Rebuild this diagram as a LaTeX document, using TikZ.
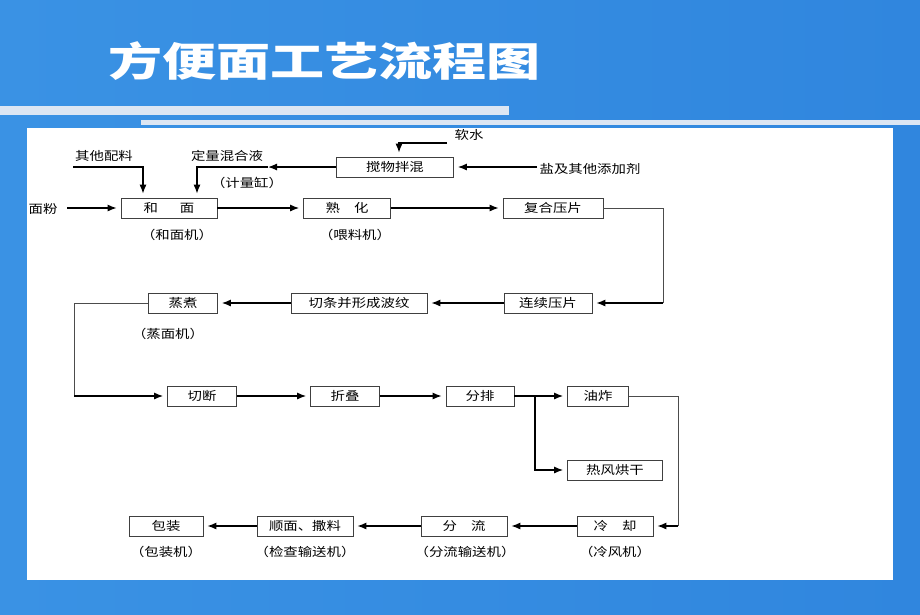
\documentclass[tikz,border=0pt]{standalone}
\usepackage{fontspec}
\usetikzlibrary{arrows.meta}
\newfontfamily\cjk[FakeStretch=1.2]{Noto Sans CJK SC}
\newfontfamily\titlefont[FakeStretch=1.35]{Noto Sans CJK SC}
\definecolor{slideblue}{RGB}{58,146,228}
\definecolor{slidedeep}{RGB}{48,134,222}
\definecolor{barlight}{RGB}{220,230,243}
\tikzset{
  stage/.style={draw=black!75,line width=0.7pt,minimum height=20pt,inner sep=0pt,
    font=\cjk\fontsize{12}{12}\selectfont},
  note/.style={inner sep=0pt,font=\cjk\fontsize{12}{12}\selectfont},
  flow/.style={-{Latex[length=9pt,width=7pt]},line width=1.2pt,shorten >=4pt},
  link/.style={draw=black!70,line width=0.7pt}
}
\begin{document}
\begin{tikzpicture}[x=1pt,y=-1pt]
\useasboundingbox (0,0) rectangle (920,614);
% slide background
\shade[left color=slideblue,right color=slidedeep] (0,0) rectangle (920,614);
\fill[barlight] (0,106) rectangle (509,115);
\fill[barlight] (141,120) rectangle (920,125);
\fill[white] (27,128) rectangle (893,580);
\node[text=white,font=\titlefont\bfseries\fontsize{40}{40}\selectfont] (title) at (324,61) {方便面工艺流程图};

% process boxes
\path
    [every node/.style=stage]
    (169,208) node [minimum width=96pt] (hemian) {和\hspace{22pt}面}
    (347,208) node [minimum width=87pt] (shuhua) {熟\hspace{14pt}化}
    (553,208) node [minimum width=100pt] (fuhe) {复合压片}
    (395,167) node [minimum width=117pt] (jiaoban) {搅物拌混}
    (548,303) node [minimum width=88pt] (lianxu) {连续压片}
    (359,303) node [minimum width=136pt] (qietiao) {切条并形成波纹}
    (183,303) node [minimum width=69pt] (zhengzhu) {蒸煮}
    (202,396) node [minimum width=69pt] (qieduan) {切断}
    (345,396) node [minimum width=69pt] (zhedie) {折叠}
    (480,396) node [minimum width=68pt] (fenpai) {分排}
    (598,396) node [minimum width=61pt] (youzha) {油炸}
    (615,470) node [minimum width=95pt] (hongan) {热风烘干}
    (615,526) node [minimum width=76pt] (lengque) {冷\hspace{14pt}却}
    (464,526) node [minimum width=86pt] (fenliu) {分\hspace{14pt}流}
    (305,526) node [minimum width=96pt] (shunmian) {顺面、撒料}
    (166,526) node [minimum width=74pt] (baozhuang) {包装};

% inputs and machine names
\path
    [every node/.style=note]
    (104,156) node (otherlbl) {其他配料}
    (227,156) node (dosellbl) {定量混合液}
    (247,183) node (doselbl) {（计量缸）}
    (469,135) node (waterlbl) {软水}
    (590,169) node (saltlbl) {盐及其他添加剂}
    (43,209) node (flourlbl) {面粉}
    (177,235) node (hemianm) {（和面机）}
    (355,235) node (shuhuam) {（喂料机）}
    (168,334) node (zhengzhum) {（蒸面机）}
    (166,552) node (baozhuangm) {（包装机）}
    (305,552) node (shunmianm) {（检查输送机）}
    (465,552) node (fenlium) {（分流输送机）}
    (615,552) node (lengquem) {（冷风机）};

% free ends and bends
\coordinate (flour) at (67,208);
\coordinate (other) at (73,167);
\coordinate (dose) at (268,167);
\coordinate (water) at (447,143);
\coordinate (salt) at (537,167);
\coordinate (turn1) at (663,303);
\coordinate (turn2) at (74,396);
\coordinate (branch) at (535,396);
\coordinate (turn3) at (678,526);

\draw [flow] (flour) -- (hemian.west);
\draw [flow] (other) -| ([xshift=-26pt]hemian.north);
\draw [flow,shorten >=0pt] (jiaoban.west) -- (dose);
\draw [flow] (dose) -| ([xshift=28pt]hemian.north);
\draw [flow] (water) -| ([xshift=4pt]jiaoban.north);
\draw [flow] (salt) -- (jiaoban.east);
\draw [flow] (hemian.east) -- (shuhua.west);
\draw [flow] (shuhua.east) -- (fuhe.west);
\draw [link] (fuhe.east) -| (turn1);
\draw [flow] (turn1) -- (lianxu.east);
\draw [flow] (lianxu.west) -- (qietiao.east);
\draw [flow] (qietiao.west) -- (zhengzhu.east);
\draw [link] (zhengzhu.west) -| (turn2);
\draw [flow] (turn2) -- (qieduan.west);
\draw [flow] (qieduan.east) -- (zhedie.west);
\draw [flow] (zhedie.east) -- (fenpai.west);
\draw [flow] (fenpai.east) -- (youzha.west);
\draw [flow] (branch) |- (hongan.west);
\draw [link] (youzha.east) -| (turn3);
\draw [flow] (turn3) -- (lengque.east);
\draw [flow] (lengque.west) -- (fenliu.east);
\draw [flow] (fenliu.west) -- (shunmian.east);
\draw [flow] (shunmian.west) -- (baozhuang.east);
\end{tikzpicture}
\end{document}
